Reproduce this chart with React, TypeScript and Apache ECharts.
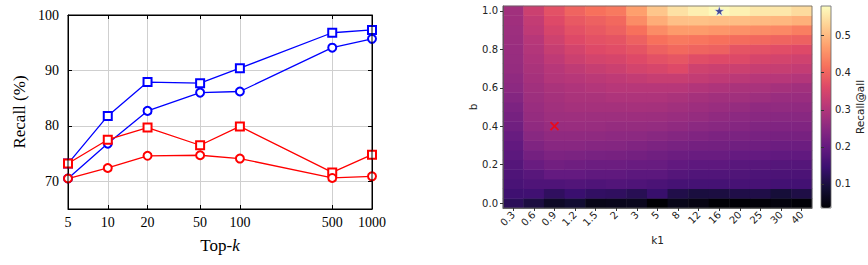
import React, { useEffect, useRef } from 'react';
import * as echarts from 'echarts';

// ---------- Left chart data ----------
const topK = [5, 10, 20, 50, 100, 500, 1000];
const blueSquare = [73.2, 81.8, 87.9, 87.7, 90.4, 96.8, 97.3];
const blueCircle = [70.5, 76.8, 82.7, 86.0, 86.2, 94.1, 95.7];
const redSquare = [73.2, 77.5, 79.7, 76.5, 79.9, 71.6, 74.8];
const redCircle = [70.5, 72.4, 74.6, 74.7, 74.1, 70.6, 70.9];
const recallTicks = [70, 80, 90, 100];

// ---------- Right chart data ----------
const k1Labels = ['0.3', '0.6', '0.9', '1.2', '1.5', '2', '3', '5', '8', '12', '16', '20', '25', '30', '40'];
const bLabels = ['0.00', '0.05', '0.10', '0.15', '0.20', '0.25', '0.30', '0.35', '0.40', '0.45', '0.50',
  '0.55', '0.60', '0.65', '0.70', '0.75', '0.80', '0.85', '0.90', '0.95', '1.00'];
// rows: b ascending (0.00 -> 1.00), columns: k1 as in k1Labels
const recallAtAll = [
  [0.122, 0.100, 0.073, 0.085, 0.057, 0.060, 0.062, 0.035, 0.057, 0.050, 0.036, 0.036, 0.040, 0.046, 0.038],
  [0.149, 0.150, 0.128, 0.143, 0.132, 0.128, 0.118, 0.140, 0.108, 0.098, 0.100, 0.106, 0.106, 0.092, 0.105],
  [0.163, 0.170, 0.170, 0.175, 0.170, 0.175, 0.170, 0.165, 0.158, 0.157, 0.157, 0.160, 0.160, 0.155, 0.155],
  [0.171, 0.182, 0.198, 0.198, 0.193, 0.193, 0.188, 0.188, 0.178, 0.173, 0.173, 0.172, 0.168, 0.166, 0.166],
  [0.179, 0.205, 0.218, 0.214, 0.210, 0.210, 0.205, 0.204, 0.196, 0.191, 0.190, 0.184, 0.182, 0.178, 0.178],
  [0.188, 0.220, 0.233, 0.230, 0.226, 0.225, 0.220, 0.215, 0.210, 0.205, 0.205, 0.200, 0.199, 0.195, 0.195],
  [0.196, 0.235, 0.247, 0.247, 0.243, 0.242, 0.236, 0.231, 0.226, 0.220, 0.219, 0.215, 0.214, 0.210, 0.210],
  [0.204, 0.248, 0.258, 0.258, 0.257, 0.254, 0.253, 0.248, 0.242, 0.236, 0.231, 0.230, 0.226, 0.225, 0.225],
  [0.215, 0.258, 0.268, 0.269, 0.268, 0.264, 0.264, 0.263, 0.258, 0.252, 0.248, 0.243, 0.237, 0.236, 0.236],
  [0.223, 0.264, 0.275, 0.276, 0.275, 0.275, 0.274, 0.273, 0.269, 0.264, 0.258, 0.253, 0.249, 0.248, 0.248],
  [0.231, 0.270, 0.280, 0.285, 0.285, 0.285, 0.286, 0.285, 0.280, 0.274, 0.269, 0.264, 0.258, 0.259, 0.258],
  [0.242, 0.275, 0.285, 0.291, 0.291, 0.296, 0.296, 0.296, 0.291, 0.285, 0.280, 0.279, 0.275, 0.270, 0.269],
  [0.253, 0.280, 0.291, 0.297, 0.302, 0.307, 0.308, 0.308, 0.307, 0.301, 0.296, 0.291, 0.290, 0.285, 0.280],
  [0.258, 0.286, 0.302, 0.308, 0.313, 0.318, 0.324, 0.330, 0.330, 0.324, 0.318, 0.313, 0.308, 0.307, 0.302],
  [0.264, 0.291, 0.307, 0.319, 0.329, 0.335, 0.346, 0.352, 0.362, 0.340, 0.336, 0.335, 0.330, 0.329, 0.324],
  [0.267, 0.297, 0.318, 0.335, 0.346, 0.351, 0.362, 0.373, 0.380, 0.367, 0.362, 0.361, 0.351, 0.347, 0.341],
  [0.269, 0.302, 0.329, 0.346, 0.362, 0.368, 0.378, 0.395, 0.406, 0.400, 0.395, 0.378, 0.373, 0.368, 0.362],
  [0.272, 0.307, 0.340, 0.362, 0.373, 0.378, 0.395, 0.417, 0.427, 0.422, 0.417, 0.411, 0.406, 0.400, 0.395],
  [0.275, 0.318, 0.351, 0.373, 0.384, 0.395, 0.417, 0.449, 0.466, 0.466, 0.460, 0.455, 0.449, 0.444, 0.433],
  [0.278, 0.324, 0.362, 0.384, 0.395, 0.406, 0.449, 0.487, 0.509, 0.510, 0.506, 0.505, 0.500, 0.498, 0.490],
  [0.280, 0.335, 0.373, 0.400, 0.417, 0.427, 0.471, 0.515, 0.547, 0.563, 0.575, 0.566, 0.555, 0.554, 0.540],
];
const colorMin = 0.035;
const colorMax = 0.58;
const colorbarTicks = [0.1, 0.2, 0.3, 0.4, 0.5];
const defaultPoint = ['0.9', '0.40'];
const bestPoint = ['16', '1.00'];

const magma = ['#000004', '#140e36', '#3b0f70', '#641a80', '#8c2981', '#b73779',
  '#de4968', '#f7705c', '#fe9f6d', '#fecf92', '#fcfdbf'];

const serif = 'Liberation Serif';
const sans = 'DejaVu Sans';

export default function App() {
  const ref = useRef<HTMLDivElement>(null);
  useEffect(() => {
    document.body.style.margin = '0';
    const chart = echarts.init(ref.current!, null, { renderer: 'svg' });
    const heatData: any[] = [];
    recallAtAll.forEach((row, i) => row.forEach((v, j) => heatData.push([j, i, v])));
    const pair = (ys: number[]) => topK.map((k, i) => [k, ys[i]]);
    const lineSeries = (ys: number[], color: string, symbol: string) => ({
      type: 'line', xAxisIndex: 0, yAxisIndex: 0, data: pair(ys),
      symbol, symbolSize: 8,
      lineStyle: { color, width: 1.3 },
      itemStyle: { color, borderColor: color, borderWidth: 1.3 },
      z: 5,
    });
    const greyAxisLine = { show: true, lineStyle: { color: '#555', width: 0.8 } };
    chart.setOption({
      animation: false,
      grid: [
        { left: 68, top: 15, width: 304, height: 194, show: true, borderColor: '#000', borderWidth: 1, backgroundColor: 'transparent', z: 10 },
        { left: 503, top: 6, width: 309, height: 202, show: true, borderColor: '#666', borderWidth: 0.8, backgroundColor: 'transparent', z: 10 },
        { left: 821, top: 6, width: 10, height: 202, show: true, borderColor: '#666', borderWidth: 0.8, backgroundColor: 'transparent', z: 10 },
      ],
      xAxis: [
        {
          gridIndex: 0, type: 'log', logBase: 10, min: 5, max: 1000,
          name: 'Top-{i|k}', nameLocation: 'middle', nameGap: 28,
          nameTextStyle: { fontFamily: serif, fontSize: 17, color: '#000', rich: { i: { fontFamily: serif, fontSize: 17, fontStyle: 'italic', color: '#000' } } },
          axisLine: { show: true, lineStyle: { color: '#000', width: 1 } },
          axisTick: { show: true, inside: true, length: 4, customValues: topK, lineStyle: { color: '#000' } },
          axisLabel: { customValues: topK, fontFamily: serif, fontSize: 14, color: '#000', margin: 6, formatter: (v: number) => String(Math.round(v)) },
          splitLine: { show: true, lineStyle: { color: '#cfcfcf', width: 1 } },
          minorTick: { show: false }, minorSplitLine: { show: false },
        },
        {
          gridIndex: 0, type: 'log', logBase: 10, min: 5, max: 1000, position: 'top',
          axisLine: { show: true, lineStyle: { color: '#000', width: 1 } },
          axisTick: { show: true, inside: true, length: 4, customValues: topK, lineStyle: { color: '#000' } },
          axisLabel: { show: false }, splitLine: { show: false },
        },
        {
          gridIndex: 1, type: 'category', data: k1Labels, z: 10,
          name: 'k1', nameLocation: 'middle', nameGap: 26,
          nameTextStyle: { fontFamily: sans, fontSize: 10.5, color: '#222' },
          axisLine: greyAxisLine,
          axisTick: { show: true, alignWithLabel: true, length: 3, lineStyle: { color: '#333' } },
          axisLabel: { rotate: 45, fontFamily: sans, fontSize: 10, color: '#222', margin: 5, interval: 0 },
          splitLine: { show: false },
        },
        {
          gridIndex: 2, type: 'value', min: 0, max: 1, show: false,
        },
      ],
      yAxis: [
        {
          gridIndex: 0, type: 'value', min: 65, max: 100,
          name: 'Recall (%)', nameLocation: 'middle', nameGap: 40, nameRotate: 90,
          nameTextStyle: { fontFamily: serif, fontSize: 17, color: '#000' },
          axisLine: { show: true, lineStyle: { color: '#000', width: 1 } },
          axisTick: { show: true, inside: true, length: 4, customValues: recallTicks, lineStyle: { color: '#000' } },
          axisLabel: { customValues: recallTicks, fontFamily: serif, fontSize: 14, color: '#000', margin: 9 },
          splitLine: { show: true, lineStyle: { color: '#cfcfcf', width: 1 } },
        },
        {
          gridIndex: 0, type: 'value', min: 65, max: 100, position: 'right',
          axisLine: { show: true, lineStyle: { color: '#000', width: 1 } },
          axisTick: { show: true, inside: true, length: 4, customValues: recallTicks, lineStyle: { color: '#000' } },
          axisLabel: { show: false }, splitLine: { show: false },
        },
        {
          gridIndex: 1, type: 'category', data: bLabels, z: 10,
          name: 'b', nameLocation: 'middle', nameGap: 22, nameRotate: 90,
          nameTextStyle: { fontFamily: sans, fontSize: 10.5, color: '#222' },
          axisLine: greyAxisLine,
          axisTick: { show: true, alignWithLabel: true, length: 3, interval: 3, lineStyle: { color: '#333' } },
          axisLabel: { interval: 3, fontFamily: sans, fontSize: 10, color: '#222', margin: 5, formatter: (v: string) => parseFloat(v).toFixed(1) },
          splitLine: { show: false },
        },
        {
          gridIndex: 2, type: 'value', min: colorMin, max: colorMax, position: 'right', z: 10,
          name: 'Recall@all', nameLocation: 'middle', nameGap: 23, nameRotate: 90,
          nameTextStyle: { fontFamily: sans, fontSize: 10.5, color: '#222' },
          axisLine: { show: false },
          axisTick: { show: true, length: 3, customValues: colorbarTicks, lineStyle: { color: '#333' } },
          axisLabel: { customValues: colorbarTicks, fontFamily: sans, fontSize: 10, color: '#222', margin: 4, formatter: (v: number) => v.toFixed(1) },
          splitLine: { show: false },
        },
      ],
      visualMap: {
        type: 'continuous', min: colorMin, max: colorMax, seriesIndex: 4,
        inRange: { color: magma }, orient: 'vertical', left: 821, top: 6,
        itemWidth: 10, itemHeight: 202, calculable: false, padding: 0,
        hoverLink: false, showLabel: false,
      },
      series: [
        lineSeries(blueSquare, '#0000ff', 'emptyRect'),
        lineSeries(blueCircle, '#0000ff', 'emptyCircle'),
        lineSeries(redSquare, '#ff0000', 'emptyRect'),
        lineSeries(redCircle, '#ff0000', 'emptyCircle'),
        {
          type: 'heatmap', xAxisIndex: 2, yAxisIndex: 2, data: heatData,
          itemStyle: { borderWidth: 0 }, emphasis: { disabled: true },
        },
        {
          type: 'scatter', xAxisIndex: 2, yAxisIndex: 2, z: 6,
          data: [defaultPoint],
          symbol: 'path://M0,0L10,10M10,0L0,10', symbolSize: 8,
          itemStyle: { color: '#ff0000', borderColor: '#ff0000', borderWidth: 1.8 },
        },
        {
          type: 'scatter', xAxisIndex: 2, yAxisIndex: 2, z: 6,
          data: [bestPoint],
          symbol: 'path://M50,0L61,35L98,35L68,57L79,91L50,70L21,91L32,57L2,35L39,35Z', symbolSize: 10,
          itemStyle: { color: '#101c8c', borderColor: '#ffffff', borderWidth: 0.6 },
        },
      ],
    });
    return () => chart.dispose();
  }, []);
  return <div ref={ref} style={{ width: 868, height: 265 }} />;
}
